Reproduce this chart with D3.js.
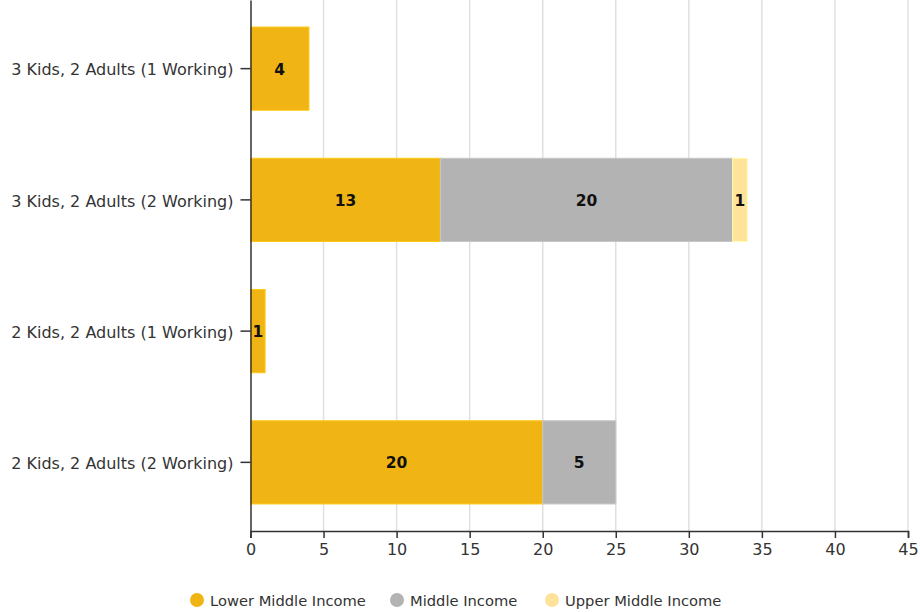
<!DOCTYPE html>
<html><head><meta charset="utf-8">
<script src="https://cdn.jsdelivr.net/npm/d3@7"></script>
<style>body{margin:0;background:#fff;}svg{display:block;font-family:"DejaVu Sans",sans-serif;}</style>
</head><body><svg id="c" width="920" height="613"></svg>
<script>
const categories = ["3 Kids, 2 Adults (1 Working)", "3 Kids, 2 Adults (2 Working)", "2 Kids, 2 Adults (1 Working)", "2 Kids, 2 Adults (2 Working)"];
const seriesNames = ["Lower Middle Income", "Middle Income", "Upper Middle Income"];
const lowerMiddle = [4, 13, 1, 20];
const middle = [0, 20, 0, 5];
const upperMiddle = [0, 1, 0, 0];
const xTicks = [0, 5, 10, 15, 20, 25, 30, 35, 40, 45];
const colors = ["#F0B514", "#B3B3B3", "#FFE39B"];

const FONT = "\"DejaVu Sans\",sans-serif";
const svg = d3.select("#c");
const m = {left: 250.5, right: 12, top: 0, bottom: 82};
const W = 920, H = 613;
const x = d3.scaleLinear().domain([0, 45]).range([m.left, W - m.right]);
const y = d3.scaleBand().domain(categories).range([m.top, H - m.bottom]).paddingInner(0.366).paddingOuter(0.206);

// grid
svg.append("g").selectAll("line").data(xTicks.slice(1)).join("line")
  .attr("x1", d => x(d)).attr("x2", d => x(d)).attr("y1", 0).attr("y2", H - m.bottom)
  .attr("stroke", "#e0e0e0").attr("stroke-width", 1.5);

const data = categories.map((c, i) => ({cat: c, "Lower Middle Income": lowerMiddle[i], "Middle Income": middle[i], "Upper Middle Income": upperMiddle[i]}));
const stack = d3.stack().keys(seriesNames)(data);

const g = svg.append("g");
stack.forEach((s, si) => {
  const gg = g.append("g");
  s.forEach(d => {
    const v = d[1] - d[0];
    if (v <= 0) return;
    gg.append("rect").attr("x", x(d[0])).attr("width", x(d[1]) - x(d[0]))
      .attr("y", y(d.data.cat)).attr("height", y.bandwidth())
      .attr("fill", colors[si]).attr("stroke", d3.color(colors[si]).brighter(0.3)).attr("stroke-width", 1);
    gg.append("text").attr("x", (x(d[0]) + x(d[1])) / 2).attr("y", y(d.data.cat) + y.bandwidth() / 2 + 1)
      .attr("text-anchor", "middle").attr("dominant-baseline", "central")
      .attr("font-weight", "bold").attr("font-size", 15.5).attr("fill", "#111").text(v);
  });
});

// x axis
const xa = svg.append("g").attr("transform", `translate(0,${H - m.bottom})`)
  .call(d3.axisBottom(x).tickValues(xTicks).tickSize(7).tickPadding(6));
xa.selectAll("text").attr("font-size", 16).attr("fill", "#333").attr("font-family", FONT);
xa.selectAll("line,path").attr("stroke", "#333").attr("stroke-width", 1.5);

// y axis
const ya = svg.append("g").attr("transform", `translate(${m.left},0)`)
  .call(d3.axisLeft(y).tickSize(10).tickPadding(7).tickSizeOuter(0));
ya.selectAll("text").attr("font-size", 16).attr("fill", "#333").attr("font-family", FONT).attr("dy", "0.42em");
ya.selectAll("line,path").attr("stroke", "#333").attr("stroke-width", 1.5);

// legend
const legX = [197, 397, 552];
const lg = svg.append("g");
seriesNames.forEach((n, i) => {
  lg.append("circle").attr("cx", legX[i]).attr("cy", 600).attr("r", 7).attr("fill", colors[i]);
  lg.append("text").attr("x", legX[i] + 13).attr("y", 600).attr("dominant-baseline", "central")
    .attr("font-size", 14.7).attr("fill", "#333").text(n);
});
</script></body></html>
